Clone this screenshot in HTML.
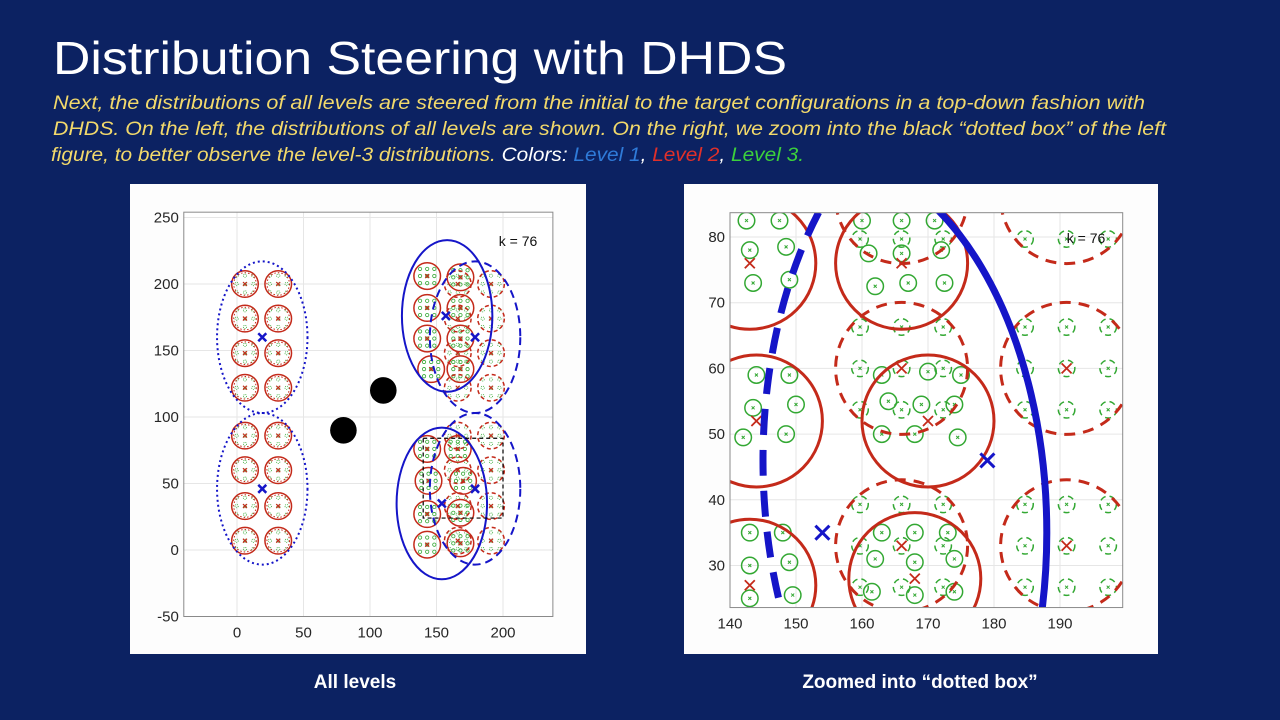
<!DOCTYPE html>
<html><head><meta charset="utf-8"><style>
html,body{margin:0;padding:0;background:#0c2262;width:1280px;height:720px;overflow:hidden;}
svg{display:block;overflow:hidden}
</style></head><body>
<svg id="s" width="1280" height="720" viewBox="0 0 1280 720" overflow="hidden" xmlns="http://www.w3.org/2000/svg">
<rect x="0" y="0" width="1280" height="720" fill="#0c2262"/>
<text x="53" y="74" fill="#ffffff" font-family="Liberation Sans, sans-serif" font-size="46" textLength="734" lengthAdjust="spacingAndGlyphs">Distribution Steering with DHDS</text>
<g font-family="Liberation Sans, sans-serif" font-style="italic" font-size="19" fill="#f2d96b">
<text x="53" y="109" textLength="1092" lengthAdjust="spacingAndGlyphs">Next, the distributions of all levels are steered from the initial to the target configurations in a top-down fashion with</text>
<text x="53" y="135" textLength="1113" lengthAdjust="spacingAndGlyphs">DHDS. On the left, the distributions of all levels are shown. On the right, we zoom into the black “dotted box” of the left</text>
<text x="51" y="161" textLength="753" lengthAdjust="spacingAndGlyphs">figure, to better observe the level-3 distributions. <tspan fill="#ffffff">Colors: </tspan><tspan fill="#2f7bd9">Level 1</tspan><tspan fill="#ffffff">, </tspan><tspan fill="#e0302a">Level 2</tspan><tspan fill="#ffffff">, </tspan><tspan fill="#3cd03c">Level 3.</tspan></text>
</g>
<rect x="130" y="184" width="456" height="470" fill="#fdfdfd"/>
<rect x="684" y="184" width="474" height="470" fill="#fdfdfd"/>
<defs>
<clipPath id="cl"><rect x="184" y="212" width="369" height="404"/></clipPath>
<clipPath id="cr"><rect x="730" y="213" width="393" height="394"/></clipPath>
</defs>
<g id="left"></g>
<g id="right"></g>
<text x="355" y="688" fill="#fff" font-family="Liberation Sans, sans-serif" font-weight="bold" font-size="19" text-anchor="middle">All levels</text>
<text x="920" y="688" fill="#fff" font-family="Liberation Sans, sans-serif" font-weight="bold" font-size="19" text-anchor="middle">Zoomed into “dotted box”</text>
</svg>
<script>
const xTicksL=[0,50,100,150,200];
const yTicksL=[-50,0,50,100,150,200,250];
const xTicksR=[140,150,160,170,180,190];
const yTicksR=[30,40,50,60,70,80];
const l1InitX=[19,19];
const l1InitY=[160,46];
const l1CurX=[158,154];
const l1CurY=[176,35];
const l1TgtX=[179,179];
const l1TgtY=[160,46];
const l1Rx=34;
const l1Ry=57;
const l2InitCols=[6,31];
const l2TgtCols=[166,191];
const l2Rows=[200,174,148,122,86,60,33,7];
const l2CurX=[143,168,143,168,143,168,146,168,143,166,144,170,143,168,143,168];
const l2CurY=[206,205,182,182,159,159,136,136,76,76,52,52,27,28,4,5];
const l2R=10;
const l3Offsets=[-6.3,0,6.3];
const l3CurX=[137,142.5,147.5,137,143,148.5,137.5,143.5,149, 160,166,171,161,166,172,162,167,172.5, 138,144,149,138,143.5,150,137,142,148.5, 163,170,175,164,169,174,163,168,174.5, 137,143,148,137,143,149,137,143,149.5, 163,168,173,162,168,174,161.5,168,174];
const l3CurY=[83,82.5,82.5,78,78,78.5,73,73,73.5, 82.5,82.5,82.5,77.5,77.5,78,72.5,73,73, 59,59,59,54,54,54.5,49.5,49.5,50, 59,59.5,59,55,54.5,54.5,50,50,49.5, 35,35,35,30,30,30.5,25,25,25.5, 35,35,35,31,30.5,31,26,25.5,26];
const l3R=1.25;
const obsX=[80,110];
const obsY=[90,120];
const obsR=10;
const l1MarkX=[19,19,157,154,179,179];
const l1MarkY=[160,46,176,35,160,46];
const boxX=[140,200];
const boxY=[24,84];
const kLabel="k = 76";

const NS="http://www.w3.org/2000/svg";
function mk(p,t,a){const e=document.createElementNS(NS,t);for(const k in a)e.setAttribute(k,a[k]);p.appendChild(e);return e;}
const BLUE="#1515c8",RED="#c42a1a",GREEN="#33a833";

function drawChart(root,cfg){
  const {sx,sy,k,x0,x1,y0,y1,xt,yt,clip,w}=cfg;
  const L=sx(x0),R=sx(x1),T=sy(y1),B=sy(y0);
  const bg=mk(root,'rect',{x:L,y:T,width:R-L,height:B-T,fill:'#fff'});
  
  
  const grid=mk(root,'g',{stroke:'#e6e6e6','stroke-width':1});
  
  
  xt.forEach(v=>mk(grid,'line',{x1:sx(v),x2:sx(v),y1:T,y2:B}));
  yt.forEach(v=>mk(grid,'line',{x1:L,x2:R,y1:sy(v),y2:sy(v)}));
  const g=mk(root,'g',{'clip-path':'url(#'+clip+')'});
  
  
  const ln=(g2,cx,cy,s,col,sw)=>{mk(g2,'path',{d:`M${cx-s},${cy-s}L${cx+s},${cy+s}M${cx-s},${cy+s}L${cx+s},${cy-s}`,stroke:col,'stroke-width':sw,fill:'none'});};
  const g3=mk(g,'g',{fill:'none',stroke:GREEN,'stroke-width':w.g});
  
  
  const l3=(cx,cy,dash)=>{const c=mk(g3,'circle',{cx:sx(cx),cy:sy(cy),r:l3R*k});if(dash)c.setAttribute('stroke-dasharray',w.gd);if(cfg.zoom)ln(g3,sx(cx),sy(cy),1.5,GREEN,1);};
  l2TgtCols.forEach(cx=>l2Rows.forEach(cy=>l3Offsets.forEach(dx=>l3Offsets.forEach(dy=>l3(cx+dx,cy+dy,true)))));
  if(!cfg.zoom){
    l2InitCols.forEach(cx=>l2Rows.forEach(cy=>l3Offsets.forEach(dx=>l3Offsets.forEach(dy=>l3(cx+dx,cy+dy,true)))));
    l2CurX.forEach((cx,i)=>l3Offsets.forEach(dx=>l3Offsets.forEach(dy=>l3(cx+dx*0.85,l2CurY[i]+dy*0.85,false))));
  } else {
    l3CurX.forEach((x,i)=>l3(x,l3CurY[i],false));
  }
  const g2=mk(g,'g',{fill:'none',stroke:RED,'stroke-width':w.r});
  
  
  l2TgtCols.forEach(cx=>l2Rows.forEach(cy=>{mk(g2,'circle',{cx:sx(cx),cy:sy(cy),r:l2R*k,'stroke-dasharray':w.rd});ln(g2,sx(cx),sy(cy),w.xs,RED,w.xw);}));
  l2InitCols.forEach(cx=>l2Rows.forEach(cy=>{mk(g2,'circle',{cx:sx(cx),cy:sy(cy),r:l2R*k});mk(g2,'circle',{cx:sx(cx),cy:sy(cy),r:l2R*k-2,'stroke-dasharray':'1.5 2','stroke-width':1});ln(g2,sx(cx),sy(cy),w.xs,RED,w.xw);}));
  l2CurX.forEach((cx,i)=>{mk(g2,'circle',{cx:sx(cx),cy:sy(l2CurY[i]),r:l2R*k});ln(g2,sx(cx),sy(l2CurY[i]),w.xs,RED,w.xw);});
  const g1=mk(g,'g',{fill:'none',stroke:BLUE,'stroke-width':w.b});
  
  
  l1InitX.forEach((cx,i)=>mk(g1,'ellipse',{cx:sx(cx),cy:sy(l1InitY[i]),rx:l1Rx*k,ry:l1Ry*k,'stroke-dasharray':'2 3'}));
  l1TgtX.forEach((cx,i)=>mk(g1,'ellipse',{cx:sx(cx),cy:sy(l1TgtY[i]),rx:l1Rx*k,ry:l1Ry*k,'stroke-dasharray':w.bd}));
  l1CurX.forEach((cx,i)=>mk(g1,'ellipse',{cx:sx(cx),cy:sy(l1CurY[i]),rx:l1Rx*k,ry:l1Ry*k}));
  l1MarkX.forEach((cx,i)=>ln(g1,sx(cx),sy(l1MarkY[i]),w.bxs,BLUE,w.bxw));
  obsX.forEach((cx,i)=>{const c=mk(g,'circle',{cx:sx(cx),cy:sy(obsY[i]),r:obsR*k,fill:'#000'});
    
    });
  if(!cfg.zoom){const b=mk(g,'rect',{x:sx(boxX[0]),y:sy(boxY[1]),width:sx(boxX[1])-sx(boxX[0]),height:sy(boxY[0])-sy(boxY[1]),fill:'none',stroke:'#000','stroke-width':1.2,'stroke-dasharray':'4 3'});
    
    }
  const fr=mk(root,'rect',{x:L,y:T,width:R-L,height:B-T,fill:'none',stroke:'#8a8a8a','stroke-width':1});
  
  
  const ax=mk(root,'g',{fill:'#262626','font-family':'Liberation Sans, sans-serif','font-size':15});
  
  
  xt.forEach(v=>{const t=mk(ax,'text',{x:sx(v),y:B+21,'text-anchor':'middle'});t.textContent=v;});
  yt.forEach(v=>{const t=mk(ax,'text',{x:L-5,y:sy(v)+5,'text-anchor':'end'});t.textContent=v;});
  const kt=mk(root,'text',{x:cfg.kx,y:cfg.ky,fill:'#111','font-family':'Liberation Sans, sans-serif','font-size':14,'text-anchor':'middle'});
  kt.textContent=kLabel;
  
  
}
const kL=1.33,kR=6.6;
drawChart(document.getElementById('left'),{sx:x=>237+x*kL,sy:y=>550-y*kL,k:kL,x0:-40,x1:237.5,y0:-50,y1:254,xt:xTicksL,yt:yTicksL,clip:'cl',zoom:false,kx:518,ky:246,
  w:{g:0.8,gd:'1 1',r:1.5,rd:'4 3',b:2,bd:'8 5',xs:2,xw:1.2,bxs:4,bxw:2.5}});
drawChart(document.getElementById('right'),{sx:x=>730+(x-140)*kR,sy:y=>237-(y-80)*6.57,k:kR,x0:140,x1:199.5,y0:23.6,y1:83.7,xt:xTicksR,yt:yTicksR,clip:'cr',zoom:true,kx:1086,ky:243,
  w:{g:1.5,gd:'6 4',r:3,rd:'11 8',b:7,bd:'26 15',xs:5,xw:1.8,bxs:7,bxw:3}});
</script>
</body></html>
